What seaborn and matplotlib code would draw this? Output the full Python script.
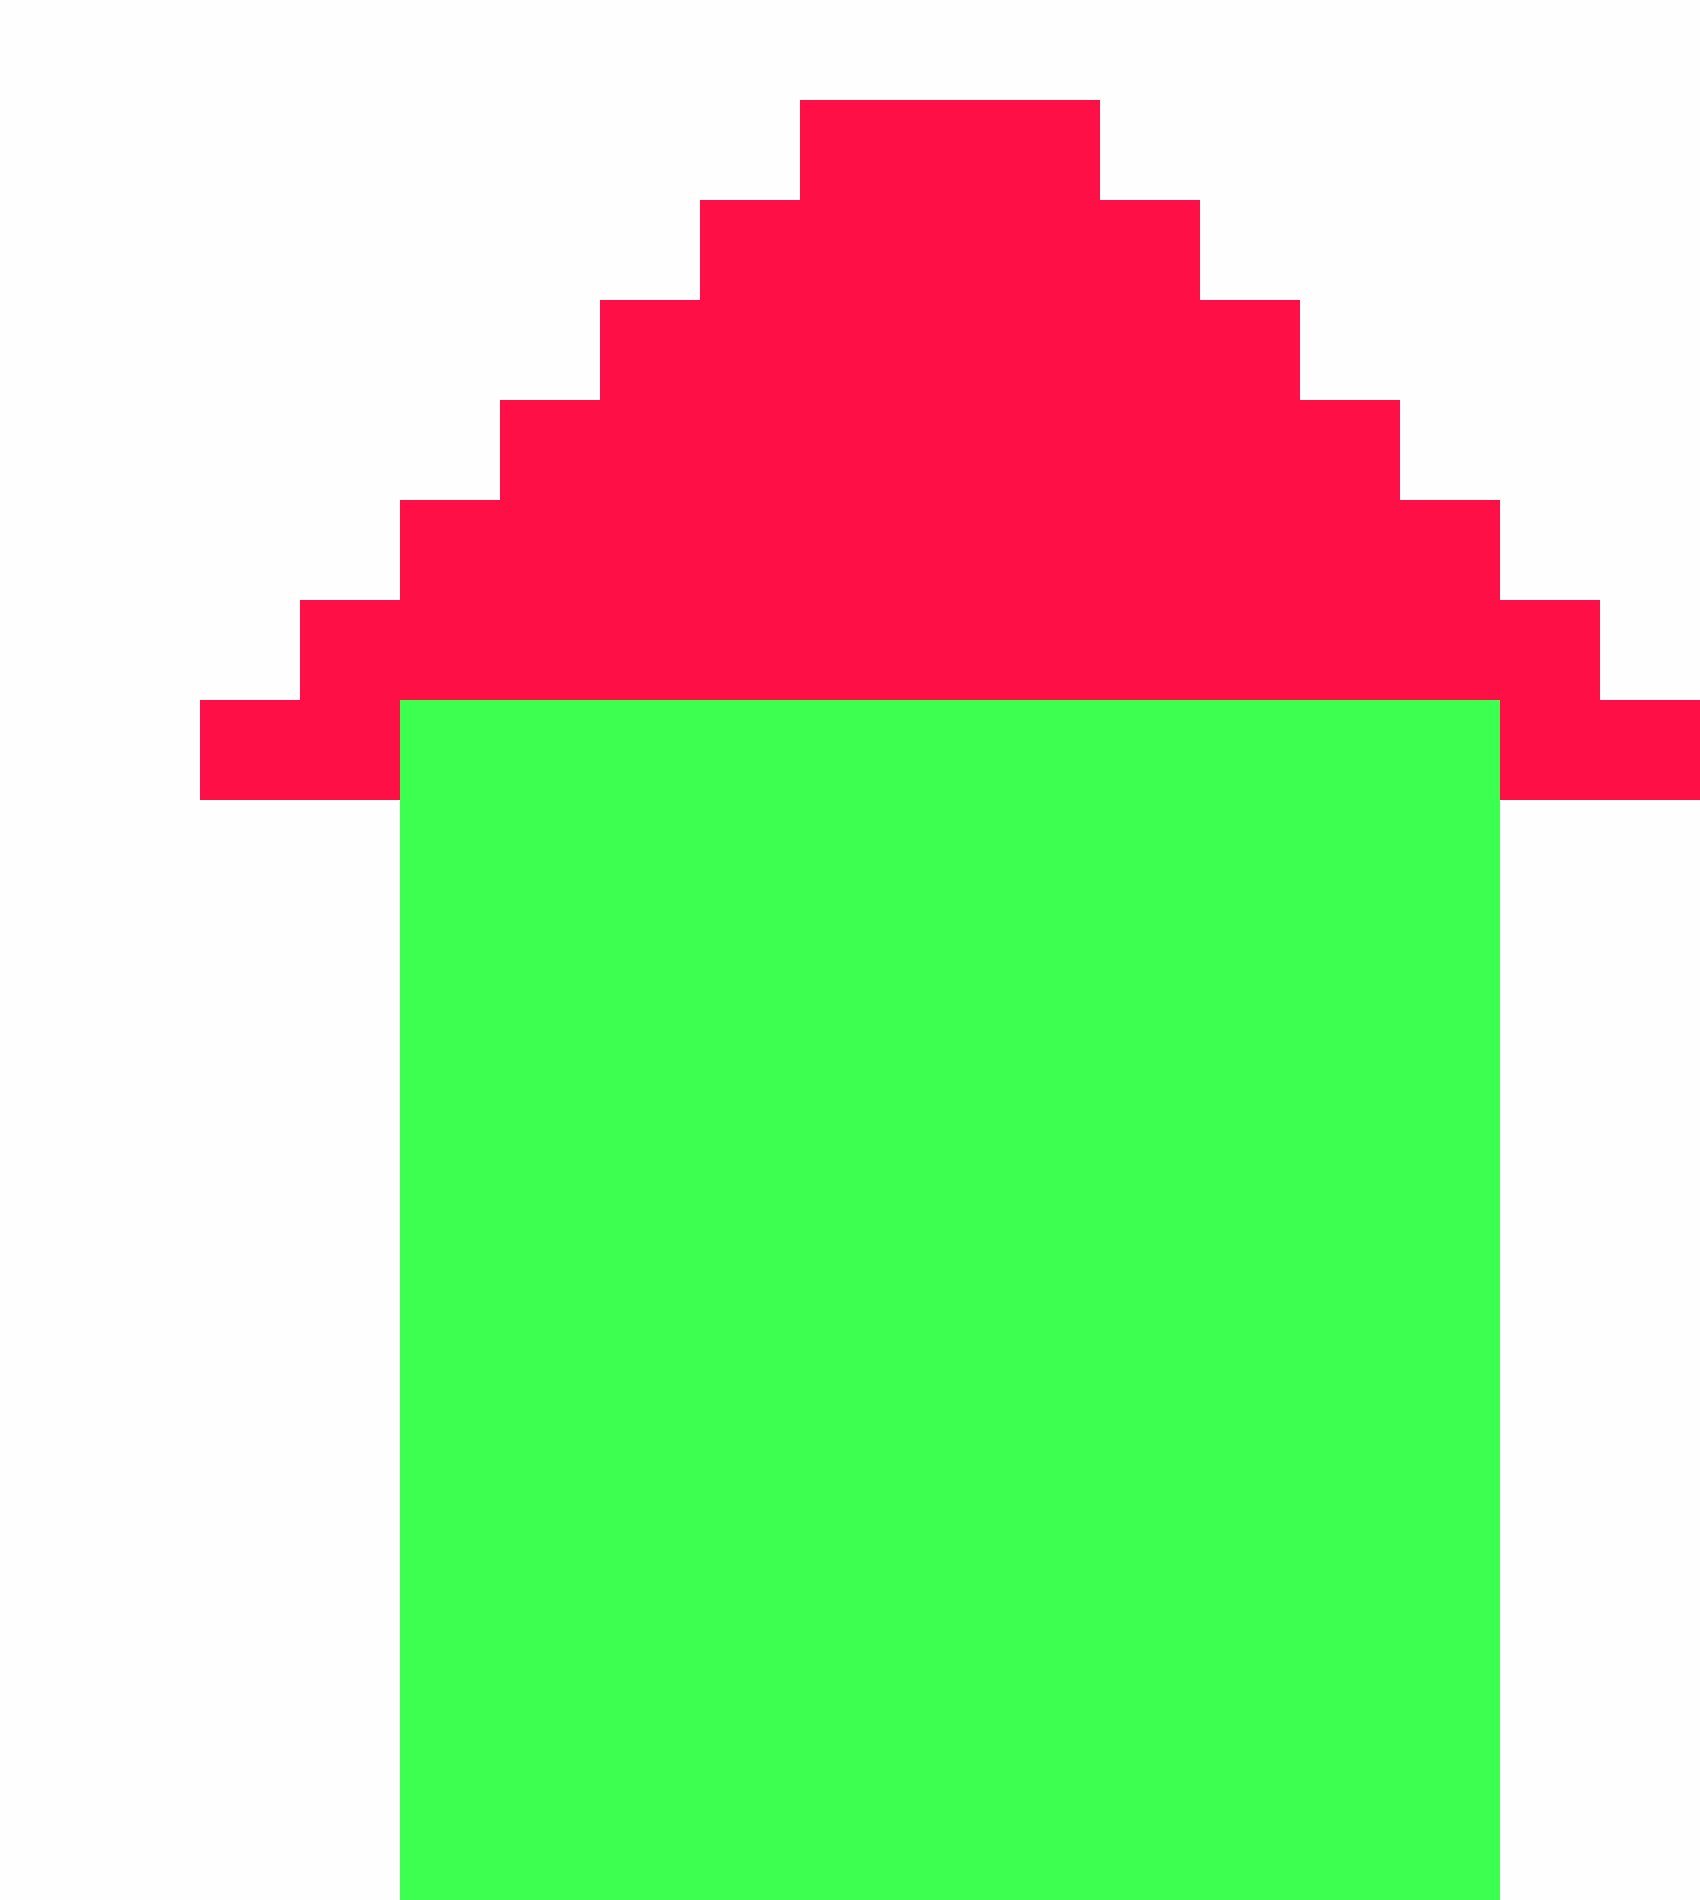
import matplotlib
matplotlib.use("Agg")
import matplotlib.pyplot as plt
from matplotlib.colors import ListedColormap
import numpy as np
import seaborn as sns

# Cell categories: 0 = empty, 1 = roof, 2 = body
row_00 = [0] * 17
row_01 = [0, 0, 0, 0, 0, 0, 0, 0, 1, 1, 1, 0, 0, 0, 0, 0, 0]
row_02 = [0, 0, 0, 0, 0, 0, 0, 1, 1, 1, 1, 1, 0, 0, 0, 0, 0]
row_03 = [0, 0, 0, 0, 0, 0, 1, 1, 1, 1, 1, 1, 1, 0, 0, 0, 0]
row_04 = [0, 0, 0, 0, 0, 1, 1, 1, 1, 1, 1, 1, 1, 1, 0, 0, 0]
row_05 = [0, 0, 0, 0, 1, 1, 1, 1, 1, 1, 1, 1, 1, 1, 1, 0, 0]
row_06 = [0, 0, 0, 1, 1, 1, 1, 1, 1, 1, 1, 1, 1, 1, 1, 1, 0]
row_07 = [0, 0, 1, 1, 2, 2, 2, 2, 2, 2, 2, 2, 2, 2, 2, 1, 1]
body_row = [0, 0, 0, 0, 2, 2, 2, 2, 2, 2, 2, 2, 2, 2, 2, 0, 0]
body_rows = 11

palette = ["#fefefe", "#fe1046", "#3dff50"]

grid = np.array(
    [row_00, row_01, row_02, row_03, row_04, row_05, row_06, row_07]
    + [body_row] * body_rows
)

fig = plt.figure(figsize=(17, 19), dpi=100, facecolor=palette[0])
ax = fig.add_axes([0, 0, 1, 1])
sns.heatmap(
    grid,
    ax=ax,
    cmap=ListedColormap(palette),
    vmin=0,
    vmax=2,
    cbar=False,
    xticklabels=False,
    yticklabels=False,
    linewidths=0,
    rasterized=True,
)
ax.set_xlabel("")
ax.set_ylabel("")
fig.savefig("out.png", dpi=100, facecolor=palette[0])
